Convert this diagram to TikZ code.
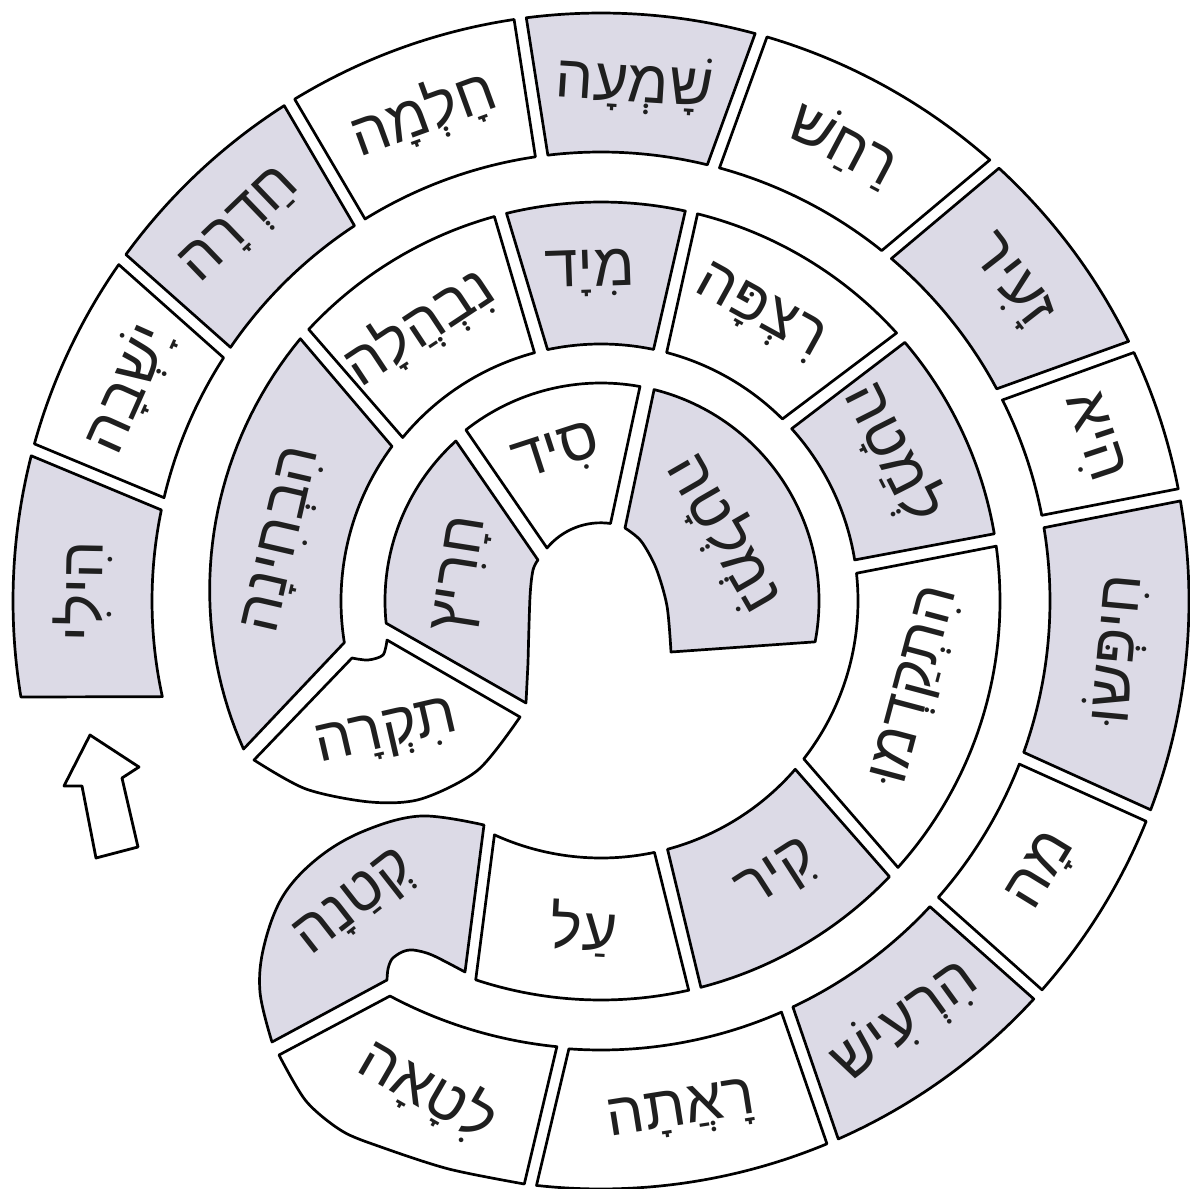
\documentclass[tikz,border=0pt]{standalone}
\usepackage{fontspec}
\newfontfamily\hebfont[Script=Hebrew]{Liberation Sans}
\TeXXeTstate=1
\definecolor{tilegray}{RGB}{220,218,230}

\begin{document}
\begin{tikzpicture}[
  x=1pt, y=1pt,
  tile/.style={draw, line width=2.7pt, line join=round},
  dark/.style={tile, fill=tilegray},
  light/.style={tile, fill=white},
  word/.style={font=\hebfont\fontsize{60}{64}\selectfont, inner sep=0pt,
    text=black!88},
  arrowbox/.style={draw, line width=2.8pt, line join=round, fill=white}
]
\useasboundingbox (-601,-587) rectangle (589,601);

% outer ring, clockwise from the start
\foreach \ao/\bo/\ai/\bi/\sty/\txt/\nm in {
  165.7/189.4/168.3/192.3/dark/הִילִי/hili,
  145.1/164.5/147.2/166.7/light/יָשְׁבָה/yashva,
  122.6/143.9/123.3/145.6/dark/חַדְרָה/chadra,
  98.5/121.4/98.4/121.7/light/חָלְמָה/chalma,
  74.8/97.3/76.3/96.8/dark/שָׁמְעָה/shama,
  48.6/73.6/51.3/74.7/light/רַחַשׁ/rachash,
  26.2/47.4/28.2/49.7/dark/זָעִיר/zair,
  11.0/25.0/11.0/26.6/light/הִיא/hi,
  -20.8/9.8/-19.7/9.4/dark/חִיפְּשׂוּ/chipsu,
  -41.4/-22.0/-41.3/-21.3/light/מָה/ma,
  -66.2/-42.6/-64.7/-42.9/dark/הִרְעִישׁ/hirish,
  -96.3/-67.4/-94.1/-66.3/light/רָאֲתָה/raata}{
  \draw[\sty] (\ao:588) arc[start angle=\ao, end angle=\bo, radius=588]
    -- (\bi:449) arc[start angle=\bi, end angle=\ai, radius=449] -- cycle;
  \pgfmathsetmacro\ang{(\ao+\bo+\ai+\bi)/4}
  \pgfmathsetmacro\rot{\ang>0 ? \ang-90 : \ang+90}
  \node[word, rotate=\rot] (\nm) at (\ang:518) {\beginR\txt\endR};
}

% second ring, counter-clockwise
\foreach \ao/\bo/\ai/\bi/\sty/\txt/\nm in {
  -108.3/-77.3/-114.5/-78.0/light/עַל/al,
  -75.5/-43.7/-75.0/-40.9/dark/קִיר/kir,
  -41.9/7.9/-37.9/6.2/light/הִתְקַדְמוּ/hitkadmu,
  9.7/40.4/9.2/42.1/dark/לְמַטָה/lemata,
  42.2/76.0/45.1/75.2/light/רִצְפָּה/ritspa,
  77.8/103.7/78.2/102.0/dark/מִיָד/miyad,
  105.5/137.1/105.0/140.5/light/נִבְהֲלָה/nivhala}{
  \draw[\sty] (\ao:399) arc[start angle=\ao, end angle=\bo, radius=399]
    -- (\bi:257) arc[start angle=\bi, end angle=\ai, radius=257] -- cycle;
  \pgfmathsetmacro\ang{(\ao+\bo+\ai+\bi)/4+1.5}
  \pgfmathsetmacro\rot{\ang>0 ? \ang-90 : \ang+90}
  \node[word, rotate=\rot] (\nm) at (\ang:328) {\beginR\txt\endR};
}

% first turn
\draw[light] plot[smooth] coordinates {(-76.7,-583) (-152.2,-568)
  (-220,-546) (-259,-530) (-295,-500) (-322,-454)} -- (-211,-395)
  arc[start angle=-118.1, end angle=-95.7, radius=449] -- cycle;
\node[word, rotate=-30] (letaa) at (-173,-489) {\beginR לִטָאָה\endR};

\draw[dark] plot[smooth, tension=0.6] coordinates {(-329,-441) (-341,-391)
  (-337,-345) (-318,-295) (-283,-257) (-237,-230) (-180,-215) (-117,-224)}
  -- plot[smooth] coordinates {(-136,-371) (-169,-354) (-188,-349)
  (-199,-351) (-209,-358) (-213,-368) (-214,-379)} -- cycle;
\node[word, rotate=38] (ktana) at (-245,-304) {\beginR קְטַנָה\endR};

% second turn
\draw[dark] plot[domain=138.9:202.5, samples=40] (\x:{399-0.19*(\x-138.9)})
  -- (189.2:260) arc[start angle=189.2, end angle=143.5, radius=260] -- cycle;
\node[word, rotate=77] (hivchina) at (-316,61) {\beginR הִבְחִינָה\endR};

\draw[light] (-347,-159) -- plot[smooth] coordinates {(-249,-57) (-233,-59)
  (-218,-54) (-214,-39)} -- plot[smooth] coordinates {(-81,-116) (-123,-169)
  (-180,-198) (-231,-201) (-295,-188) (-347,-159)} -- cycle;
\node[word, rotate=13] (tikra) at (-214,-134) {\beginR תִקְרָה\endR};

% inner ring
\draw[dark] (132.2:216) arc[start angle=132.2, end angle=185.9, radius=216]
  -- (-75,-102) -- plot[smooth] coordinates {(-73,-62) (-71,4) (-68,31)
  (-63,41)} -- cycle;
\node[word, rotate=81] (charits) at (-138,26) {\beginR חָרִיץ\endR};

\draw[light] (79.7:218) arc[start angle=79.7, end angle=128.3, radius=218]
  -- (-54,53) arc[start angle=140.2, end angle=82, radius=70] -- cycle;
\node[word, rotate=18] (sid) at (-44,146) {\beginR סִיד\endR};

\draw[dark] (-10.8:218) arc[start angle=-10.8, end angle=75.9, radius=218]
  -- plot[smooth] coordinates {(24,73) (40,60) (55,33) (66,-5) (70,-51)}
  -- cycle;
\node[word, rotate=-60] (nimleta) at (124,68) {\beginR נִמְלְטָה\endR};

% start arrow
\draw[arrowbox] (-511,-134) -- (-537,-185) -- (-519,-185) -- (-505,-257)
  -- (-463,-246) -- (-479,-177) -- (-462,-166) -- cycle;
\end{tikzpicture}
\end{document}
